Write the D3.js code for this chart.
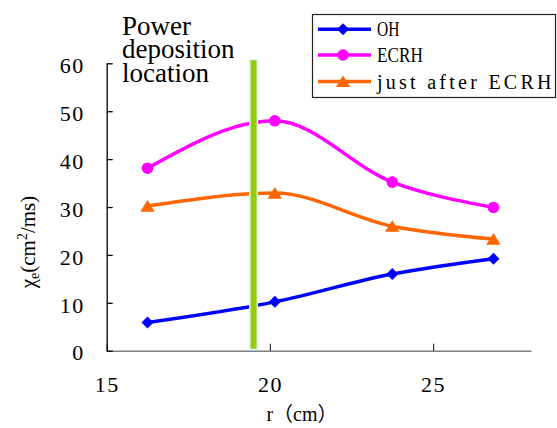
<!DOCTYPE html>
<html>
<head>
<meta charset="utf-8">
<script src="https://cdn.jsdelivr.net/npm/d3@7"></script>
<style>
  body { margin: 0; background: #fff; }
  svg { display: block; }
</style>
</head>
<body>
<svg id="chart" width="557" height="428"></svg>
<script>
// data
const rValues = [16.25, 20.15, 23.75, 26.85];
const ohValues = [5.9, 10.2, 16.0, 19.2];
const ecrhValues = [38.1, 48.0, 35.2, 29.9];
const afterValues = [30.2, 32.9, 26.0, 23.3];
const seriesNames = ["OH", "ECRH", "just after ECRH"];
const depositionR = 19.5;
const xTicks = [15, 20, 25];
const yTicks = [0, 10, 20, 30, 40, 50, 60];

const colors = ["#0000ff", "#ff00ff", "#ff6600"];
const shapes = [
    "M0,-6L6,0L0,6L-6,0Z",                       // diamond
    d3.symbol(d3.symbolCircle, 106)(),            // circle r~5.8
    "M0,-6L7.2,5.6L-7.2,5.6Z"                    // triangle
];
const serif = "'Liberation Serif', 'Noto Sans CJK SC', serif";

const svg = d3.select("#chart");

const x = d3.scaleLinear().domain([15, 28]).range([106.7, 531]);
const y = d3.scaleLinear().domain([0, 60]).range([350.7, 63.3]);

const series = [ohValues, ecrhValues, afterValues].map((vals, i) => ({
    name: seriesNames[i],
    color: colors[i],
    shape: shapes[i],
    points: rValues.map((r, j) => ({ r: r, v: vals[j] }))
}));

// x axis (gray line, inward ticks)
const xAxis = svg.append("g")
    .attr("transform", `translate(0,${y(0)})`)
    .call(d3.axisBottom(x).tickValues(xTicks).tickSizeInner(-7).tickSizeOuter(0).tickPadding(26));
xAxis.select(".domain").attr("stroke", "#7f7f7f").attr("stroke-width", 1.6);
xAxis.selectAll(".tick line").attr("stroke", "#333").attr("stroke-width", 1.2);
xAxis.selectAll(".tick text")
    .attr("font-family", serif)
    .attr("font-size", 22)
    .attr("letter-spacing", 1.5)
    .attr("fill", "#000");

// y axis (black, inward ticks)
const yAxis = svg.append("g")
    .attr("transform", `translate(${x(15)},0)`)
    .call(d3.axisLeft(y).tickValues(yTicks).tickSizeInner(-6).tickSizeOuter(0).tickPadding(22));
yAxis.select(".domain").attr("stroke", "#000").attr("stroke-width", 1.3);
yAxis.selectAll(".tick line").attr("stroke", "#000").attr("stroke-width", 1.3);
yAxis.selectAll(".tick text")
    .attr("font-family", serif)
    .attr("font-size", 22)
    .attr("letter-spacing", 1.5)
    .attr("dy", "0.42em")
    .attr("fill", "#000");

// series lines
const line = d3.line()
    .x(d => x(d.r))
    .y(d => y(d.v))
    .curve(d3.curveMonotoneX);

svg.append("g").selectAll("path")
    .data(series)
    .join("path")
    .attr("d", d => line(d.points))
    .attr("fill", "none")
    .attr("stroke", d => d.color)
    .attr("stroke-width", 3.5);

// power deposition bar
const bar = svg.append("g");
bar.append("rect")
    .attr("x", x(depositionR) - 4.5)
    .attr("y", y(60) - 4)
    .attr("width", 9)
    .attr("height", y(0) - y(60) + 3)
    .attr("fill", "#ccffff");
bar.append("rect")
    .attr("x", x(depositionR) - 3)
    .attr("y", y(60) - 3)
    .attr("width", 6)
    .attr("height", y(0) - y(60) + 1)
    .attr("fill", "#99cc00");

// markers
series.forEach(s => {
    svg.append("g").selectAll("path")
        .data(s.points)
        .join("path")
        .attr("d", s.shape)
        .attr("transform", d => `translate(${x(d.r)},${y(d.v)})`)
        .attr("fill", s.color);
});

// annotation
svg.append("text")
    .attr("font-family", serif)
    .attr("font-size", 27)
    .attr("fill", "#000")
    .selectAll("tspan")
    .data(["Power", "deposition", "location"])
    .join("tspan")
    .attr("x", 122)
    .attr("y", (d, i) => 35 + i * 23.3)
    .text(d => d);

// y label
const yLabel = svg.append("text")
    .attr("transform", "translate(35,242) rotate(-90)")
    .attr("text-anchor", "middle")
    .attr("font-family", serif)
    .attr("font-size", 21)
    .attr("fill", "#000");
yLabel.append("tspan").text("χ");
yLabel.append("tspan").attr("font-size", 14).attr("dy", 4).text("e");
yLabel.append("tspan").attr("dy", -4).text("(cm");
yLabel.append("tspan").attr("font-size", 14).attr("dy", -8).text("2");
yLabel.append("tspan").attr("dy", 8).text("/ms)");

// x label
svg.append("text")
    .attr("x", 302)
    .attr("y", 421)
    .attr("text-anchor", "middle")
    .attr("font-family", serif)
    .attr("font-size", 20)
    .attr("fill", "#000")
    .text("r（cm）");

// legend
const legend = svg.append("g");
legend.append("rect")
    .attr("x", 312.5)
    .attr("y", 14.5)
    .attr("width", 243)
    .attr("height", 83)
    .attr("fill", "#fff")
    .attr("stroke", "#222")
    .attr("stroke-width", 1.2);

const rows = legend.selectAll("g.row")
    .data(series)
    .join("g")
    .attr("class", "row")
    .attr("transform", (d, i) => `translate(0,${[29.3, 55, 81.5][i]})`);
rows.append("line")
    .attr("x1", 318).attr("x2", 371)
    .attr("stroke", d => d.color)
    .attr("stroke-width", 3.5);
rows.append("path")
    .attr("d", d => d.shape)
    .attr("transform", "translate(343,0)")
    .attr("fill", d => d.color);
// monospaced look: each character gets ~11.7px
rows.append("text")
    .attr("x", 377)
    .attr("y", 7)
    .attr("font-family", serif)
    .attr("font-size", 20)
    .attr("fill", "#000")
    .text(d => d.name)
    .each(function(d) {
        const target = d.name.length * 11.7 - 1;
        const natural = this.getComputedTextLength();
        d3.select(this)
            .attr("textLength", target)
            .attr("lengthAdjust", natural > target ? "spacingAndGlyphs" : "spacing");
    });
</script>
</body>
</html>
